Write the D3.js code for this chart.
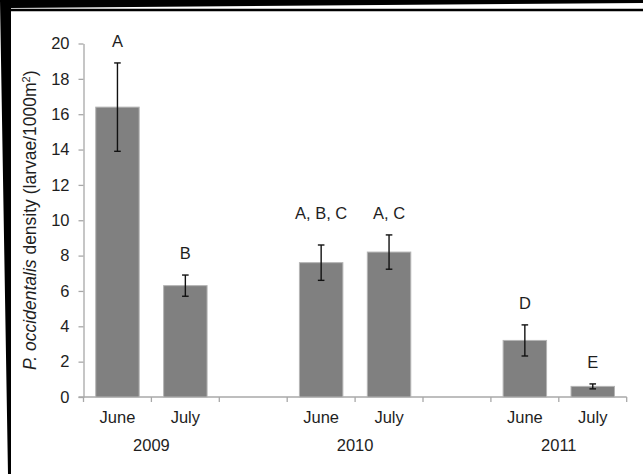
<!DOCTYPE html>
<html>
<head>
<meta charset="utf-8">
<script src="https://cdn.jsdelivr.net/npm/d3@7/dist/d3.min.js"></script>
<style>
  body { margin: 0; background: #fff; }
  text { font-family: "Liberation Sans", Arial, sans-serif; fill: #1e1e1e; }
</style>
</head>
<body>
<svg id="chart"></svg>
<script>
// data
const years = ["2009", "2010", "2011"]
const months = ["June", "July"]
const density = [16.4, 6.3, 7.6, 8.2, 3.2, 0.6]
const stdErr = [2.5, 0.6, 1.0, 0.97, 0.88, 0.14]
const letters = ["A", "B", "A, B, C", "A, C", "D", "E"]
const yTicks = [0, 2, 4, 6, 8, 10, 12, 14, 16, 18, 20]

const width = 643, height = 474
const fontSize = "16.5px"

var svg = d3.select("#chart")
    .attr("width", width)
    .attr("height", height)

// black scan edge and frame
svg.append("polygon")
    .attr("points", "0,0 643,0 643,3 11,8 11,474 8,474")
    .attr("fill", "#000")
svg.append("line")
    .attr("x1", 9).attr("x2", 643).attr("y1", 10).attr("y2", 10)
    .attr("stroke", "#000").attr("stroke-width", 2.5)
svg.append("line")
    .attr("x1", 9.5).attr("x2", 9.5).attr("y1", 9).attr("y2", 474)
    .attr("stroke", "#000").attr("stroke-width", 3)

// build rows: one per bar, with empty slots between years
var rows = []
var slots = []
years.forEach((yr, i) => {
    months.forEach((m, j) => {
        var k = i * months.length + j
        rows.push({ key: yr + "-" + m, year: yr, month: m, value: density[k], err: stdErr[k], letter: letters[k] })
        slots.push(yr + "-" + m)
    })
    if (i < years.length - 1) slots.push("gap" + i)
})

var x = d3.scaleBand()
    .domain(slots)
    .range([83.5, 626.7])
    .padding(0)

var y = d3.scaleLinear()
    .domain([0, 20])
    .range([397, 43.5])

const barW = x.bandwidth() * 0.64

// axes
var yAxis = svg.append("g")
    .attr("transform", "translate(83.5,0)")
    .call(d3.axisLeft(y).tickValues(yTicks).tickSize(5).tickSizeOuter(0).tickPadding(9))
yAxis.select(".domain").attr("stroke", "#a8a8a8").attr("stroke-width", 1.3)
yAxis.selectAll(".tick line").attr("stroke", "#a8a8a8").attr("stroke-width", 1.3)
yAxis.selectAll(".tick text")
    .style("font-size", fontSize)
    .style("font-family", "Liberation Sans, Arial, sans-serif")
    .attr("fill", "#1e1e1e")

svg.append("line")
    .attr("x1", 78.5).attr("x2", x.range()[1])
    .attr("y1", y(0)).attr("y2", y(0))
    .attr("stroke", "#a8a8a8").attr("stroke-width", 1.3)

var bounds = slots.map((s) => x(s)).concat([x.range()[1]])
svg.append("g").selectAll("line")
    .data(bounds)
    .enter()
    .append("line")
    .attr("x1", (d) => d).attr("x2", (d) => d)
    .attr("y1", y(0)).attr("y2", y(0) + 5)
    .attr("stroke", "#a8a8a8").attr("stroke-width", 1.3)

// bars
var cx = (d) => x(d.key) + x.bandwidth() / 2
svg.append("g").selectAll("rect")
    .data(rows)
    .enter()
    .append("rect")
    .attr("x", (d) => cx(d) - barW / 2)
    .attr("width", barW)
    .attr("y", (d) => y(d.value))
    .attr("height", (d) => y(0) - y(d.value))
    .attr("fill", "#808080")
    .attr("stroke", "#b4b4b4")
    .attr("stroke-width", 1)

// error bars
var eb = svg.append("g").attr("stroke", "#111").attr("stroke-width", 1.4)
rows.forEach((d) => {
    var c = cx(d)
    eb.append("line").attr("x1", c).attr("x2", c).attr("y1", y(d.value + d.err)).attr("y2", y(d.value - d.err))
    eb.append("line").attr("x1", c - 3.3).attr("x2", c + 3.3).attr("y1", y(d.value + d.err)).attr("y2", y(d.value + d.err))
    eb.append("line").attr("x1", c - 3.3).attr("x2", c + 3.3).attr("y1", y(d.value - d.err)).attr("y2", y(d.value - d.err))
})

// significance letters; close neighbours in a year share one height
rows.forEach((d) => {
    var top = d.value + d.err
    rows.filter((o) => o.year == d.year && Math.abs(o.value + o.err - top) < 1.2)
        .forEach((o) => { top = Math.max(top, o.value + o.err) })
    d.labelTop = top
})
svg.append("g").selectAll("text")
    .data(rows)
    .enter()
    .append("text")
    .attr("x", cx)
    .attr("y", (d) => y(d.labelTop) - 16)
    .attr("text-anchor", "middle")
    .style("font-size", fontSize)
    .text((d) => d.letter)

// month and year labels
svg.append("g").selectAll("text")
    .data(rows)
    .enter()
    .append("text")
    .attr("x", cx)
    .attr("y", 423)
    .attr("text-anchor", "middle")
    .style("font-size", fontSize)
    .text((d) => d.month)

svg.append("g").selectAll("text")
    .data(years)
    .enter()
    .append("text")
    .attr("x", (yr) => (x(yr + "-June") + x(yr + "-July") + x.bandwidth()) / 2)
    .attr("y", 451)
    .attr("text-anchor", "middle")
    .style("font-size", fontSize)
    .text((yr) => yr)

// y axis title
var title = svg.append("text")
    .attr("transform", "translate(36," + ((y(0) + y(20)) / 2) + ") rotate(-90)")
    .attr("text-anchor", "middle")
    .style("font-size", "17.5px")
title.append("tspan").style("font-style", "italic").text("P. occidentalis")
title.append("tspan").text(" density (larvae/1000m")
title.append("tspan").attr("baseline-shift", "super").style("font-size", "11px").text("2")
title.append("tspan").text(")")
</script>
</body>
</html>
